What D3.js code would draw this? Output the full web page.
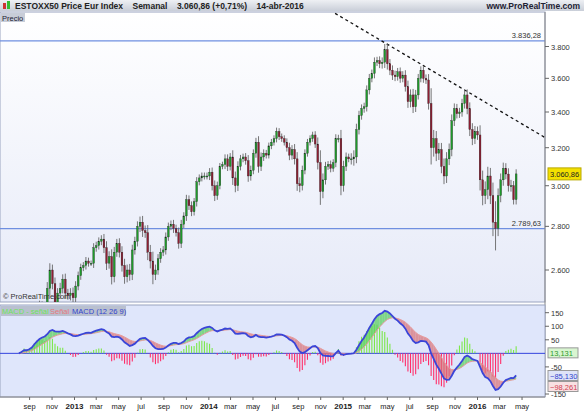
<!DOCTYPE html>
<html><head><meta charset="utf-8">
<script src="https://d3js.org/d3.v7.min.js"></script>
<style>body{margin:0;background:#fff}text{font-family:"Liberation Sans",Arial,sans-serif}</style>
</head><body><div id="chart"></div>
<script>
// weekly closes, Jul 2012 .. 15 Apr 2016
const closes = [
  2200,2264,2300,2230,2280,2325,2420,2440,2450,2440,2440,2520,2600,2540,2450,2500,2520,2560,2500,2490,2500,2480,2530,2575,2610,2620,2640,2630,2630,
  2700,2710,2730,2740,2700,2630,2660,2570,2680,2720,2680,2620,2570,2600,2580,2690,2730,2800,2820,2780,2770,2680,2640,2580,2600,2650,2680,2690,2750,2800,2810,2790,2770,2720,2810,2850,2930,2900,2870,2920,3020,3040,3050,3050,3050,3070,3000,2950,3000,3100,3110,
  3140,3100,3150,3040,3000,3100,3140,3150,3130,3050,3080,3170,3230,3100,3150,3170,3160,3210,3230,3250,3290,3260,3250,3230,3200,3160,3190,3140,3010,3000,3080,3170,3230,3250,3270,3220,3120,2970,3030,3100,3110,3090,3120,3250,3250,3000,3100,3150,3140,
  3140,3150,3300,3380,3420,3430,3530,3600,3630,3700,3710,3690,3700,3780,3690,3650,3620,3610,3640,3600,3620,3550,3460,3500,3430,3500,3600,3650,3600,3590,3450,3200,3250,3170,3190,3100,3050,3140,3190,3350,3420,3390,3400,3450,3500,3420,3300,3250,3290,3270,
  3030,2950,2980,3050,2950,2820,2790,2950,3030,3090,3060,3000,3000,2930,3060.86
];
// extra wick length beyond the body, per week
const wicks = [
  40,50,45,60,55,40,35,30,30,25,30,45,50,40,45,35,40,35,40,30,35,40,35,30,30,25,30,25,20,
  35,30,30,30,40,50,40,55,40,35,40,45,50,40,45,40,35,40,45,50,40,60,55,70,40,35,30,30,35,30,30,35,30,40,35,30,40,35,35,30,40,30,30,30,30,35,40,45,35,30,25,
  40,40,35,60,55,45,35,30,35,50,40,35,40,55,40,35,30,30,30,30,35,30,30,30,35,45,40,50,60,55,40,35,30,30,30,35,60,110,55,40,30,35,30,40,35,80,50,40,30,
  50,60,55,45,40,40,45,45,40,50,40,45,50,60,60,50,50,45,40,45,40,50,60,55,60,50,45,40,45,40,60,150,80,70,60,60,70,60,55,60,50,45,40,45,50,55,60,60,50,45,
  90,80,70,80,70,110,170,60,55,50,45,50,50,40,40
];
const xTicks = ["2012-09-01","2012-11-01","2013-01-01","2013-03-01","2013-05-01","2013-07-01","2013-09-01","2013-11-01","2014-01-01","2014-03-01","2014-05-01","2014-07-01","2014-09-01","2014-11-01","2015-01-01","2015-03-01","2015-05-01","2015-07-01","2015-09-01","2015-11-01","2016-01-01","2016-03-01","2016-05-01"];
const monthNames = ["ene","feb","mar","abr","may","jun","jul","ago","sep","oct","nov","dic"];
const priceTicks = [2600,2800,3000,3200,3400,3600,3800];
const macdTicks = [150,100,50,-50,-150];
const levels = [3836.28, 2789.63];
const trendPts = [["2014-12-10",4020],["2016-07-03",3255]];

const W = 584, H = 412;
const fmt = d3.formatLocale({decimal:",",thousands:".",grouping:[3],currency:["",""]});
const f2 = fmt.format(",.2f"), f3 = fmt.format(",.3f");

const last = new Date(2016,3,15);
const dates = closes.map((c,i) => d3.timeDay.offset(last, -7*(closes.length-1-i)));
const bars = closes.map((c,i) => {
  const o = i ? closes[i-1] : c - 20;
  return {d: dates[i], o, c, h: Math.max(o,c)+wicks[i]*0.6, l: Math.min(o,c)-wicks[i]*0.6};
});

const x = d3.scaleTime().domain([new Date(2013,0,1), new Date(2016,0,1)]).range([74.5, 477.5]);
const y = d3.scaleLog().domain([2600, 3800]).range([270, 46.5]);
const ym = d3.scaleLinear().domain([-150,150]).range([394, 312.7]);

const svg = d3.select("#chart").append("svg").attr("width", W).attr("height", H);
const defs = svg.append("defs");
const g1 = defs.append("linearGradient").attr("id","bg").attr("x1",0).attr("y1",0).attr("x2",0).attr("y2",1);
g1.append("stop").attr("offset",0).attr("stop-color","#ffffff");
g1.append("stop").attr("offset",1).attr("stop-color","#e6eaf8");
const g2 = defs.append("linearGradient").attr("id","hd").attr("x1",0).attr("y1",0).attr("x2",0).attr("y2",1);
g2.append("stop").attr("offset",0).attr("stop-color","#eef0f4");
g2.append("stop").attr("offset",1).attr("stop-color","#c9ced8");
defs.append("clipPath").attr("id","cp").append("rect").attr("x",0).attr("y",12).attr("width",545).attr("height",290);
defs.append("clipPath").attr("id","cm").append("rect").attr("x",0).attr("y",305).attr("width",545).attr("height",92);

// header
svg.append("rect").attr("width",W).attr("height",11).attr("fill","url(#hd)");
svg.append("rect").attr("x",3).attr("y",3).attr("width",3).attr("height",6).attr("fill","#c33");
svg.append("rect").attr("x",7).attr("y",1).attr("width",3).attr("height",8).attr("fill","#3b3");
svg.append("text").attr("x",15).attr("y",9).attr("font-size",8.5).attr("font-weight","bold").attr("fill","#222")
  .attr("xml:space","preserve").text("ESTOXX50 Price Eur Index    Semanal    3.060,86 (+0,71%)    14-abr-2016");
svg.append("text").attr("x",580).attr("y",9).attr("font-size",8.5).attr("font-weight","bold").attr("text-anchor","end").attr("fill","#223").text("www.ProRealTime.com");

// price panel
svg.append("rect").attr("x",0).attr("y",12).attr("width",545).attr("height",290).attr("fill","url(#bg)").attr("stroke","#9aa4c0");
svg.append("rect").attr("x",1).attr("y",13).attr("width",24).attr("height",9).attr("fill","#c8cdd8");
svg.append("text").attr("x",2).attr("y",20.5).attr("font-size",7.5).attr("fill","#223").text("Precio");

const pp = svg.append("g").attr("clip-path","url(#cp)");
levels.forEach(v => {
  pp.append("line").attr("x1",0).attr("x2",545).attr("y1",y(v)).attr("y2",y(v)).attr("stroke","#6f8fe0").attr("stroke-width",1.2);
  svg.append("text").attr("x",541).attr("y",y(v)-3).attr("font-size",7.5).attr("text-anchor","end").attr("fill","#333").text(f2(v));
});
pp.append("line")
  .attr("x1",x(new Date(trendPts[0][0]))).attr("y1",y(trendPts[0][1]))
  .attr("x2",x(new Date(trendPts[1][0]))).attr("y2",y(trendPts[1][1]))
  .attr("stroke","#111").attr("stroke-width",1.3).attr("stroke-dasharray","3,3");

const cg = pp.selectAll("g.c").data(bars).join("g");
cg.append("line").attr("x1",d=>x(d.d)).attr("x2",d=>x(d.d)).attr("y1",d=>y(d.h)).attr("y2",d=>y(d.l))
  .attr("stroke","#666").attr("stroke-width",0.9);
cg.append("rect").attr("x",d=>x(d.d)-0.9).attr("width",1.8)
  .attr("y",d=>y(Math.max(d.o,d.c))).attr("height",d=>Math.max(1,Math.abs(y(d.o)-y(d.c))))
  .attr("fill",d=>d.c>=d.o ? "#1e9a2a" : "#8e1f33").attr("stroke","#222").attr("stroke-width",0.3);

svg.append("text").attr("x",3).attr("y",299).attr("font-size",7.5).attr("fill","#333").text("© ProRealTime.com");

// right axis price
svg.append("line").attr("x1",545).attr("x2",545).attr("y1",12).attr("y2",397).attr("stroke","#888");
priceTicks.forEach(v => {
  svg.append("line").attr("x1",545).attr("x2",549).attr("y1",y(v)).attr("y2",y(v)).attr("stroke","#666");
  svg.append("text").attr("x",551).attr("y",y(v)+3).attr("font-size",7.5).attr("fill","#333").text(f3(v/1000).replace(",","."));
});
const lc = closes[closes.length-1];
svg.append("rect").attr("x",548).attr("y",y(lc)-6).attr("width",33).attr("height",12).attr("fill","#f3e000").attr("stroke","#b9a800");
svg.append("text").attr("x",550).attr("y",y(lc)+3).attr("font-size",7.5).attr("fill","#222").text(f2(lc));

// MACD
function ema(arr, n){ const k=2/(n+1); let e=arr[0]; return arr.map(v => e = v*k + e*(1-k)); }
const e12 = ema(closes,12), e26 = ema(closes,26);
const macd = closes.map((c,i) => e12[i]-e26[i]);
const sig = ema(macd, 9);
const md = dates.map((d,i) => ({d, m: macd[i], s: sig[i]}));

svg.append("rect").attr("x",0).attr("y",305).attr("width",545).attr("height",92).attr("fill","#dfe6fb").attr("stroke","#9aa4c0");
const mp = svg.append("g").attr("clip-path","url(#cm)");
mp.append("line").attr("x1",0).attr("x2",545).attr("y1",ym(0)).attr("y2",ym(0)).attr("stroke","#3344dd").attr("stroke-width",1);
mp.selectAll("line.h").data(md).join("line")
  .attr("x1",d=>x(d.d)).attr("x2",d=>x(d.d)).attr("y1",ym(0)).attr("y2",d=>ym(2*(d.m-d.s)))
  .attr("stroke",d=>d.m>=d.s ? "#7ce84a" : "#ff2f6a").attr("stroke-width",1.1);
for (let i=1;i<md.length;i++){
  const a=md[i-1], b=md[i];
  mp.append("path").attr("d", d3.area().x(d=>x(d.d)).y0(d=>ym(d.s)).y1(d=>ym(d.m))([a,b]))
    .attr("fill", (a.m+b.m)/2 >= (a.s+b.s)/2 ? "#5fd060" : "#d9767c").attr("opacity",0.75);
}
mp.append("path").attr("d", d3.line().x(d=>x(d.d)).y(d=>ym(d.s))(md)).attr("fill","none").attr("stroke","#e79a9a").attr("stroke-width",1);
mp.append("path").attr("d", d3.line().x(d=>x(d.d)).y(d=>ym(d.m))(md)).attr("fill","none").attr("stroke","#3a45d8").attr("stroke-width",1.8);

svg.append("rect").attr("x",1).attr("y",306).attr("width",125).attr("height",10).attr("fill","#b9c0cf");
svg.append("text").attr("x",2).attr("y",314).attr("font-size",7.5).attr("fill","#6de45a").text("MACD - señal");
svg.append("text").attr("x",50).attr("y",314).attr("font-size",7.5).attr("fill","#e5787e").text("Señal");
svg.append("text").attr("x",72).attr("y",314).attr("font-size",7.5).attr("fill","#3344cc").text("MACD (12 26 9)");

macdTicks.forEach(v => {
  svg.append("line").attr("x1",545).attr("x2",549).attr("y1",ym(v)).attr("y2",ym(v)).attr("stroke","#666");
  svg.append("text").attr("x",551).attr("y",ym(v)+3).attr("font-size",7.5).attr("fill","#333").text(v);
});
[[13.131,"#2d9a2d","#d8f5d0",ym(0)],[-85.130,"#3344cc","#dfe4f8",376],[-98.261,"#d04050","#f8e0e2",387]].forEach(([v,col,bg,yy]) => {
  svg.append("rect").attr("x",548).attr("y",yy-5.5).attr("width",30).attr("height",10).attr("fill",bg).attr("stroke","#999");
  svg.append("text").attr("x",550).attr("y",yy+2.5).attr("font-size",7.5).attr("fill",col).text(f3(v));
});

// time axis
svg.append("line").attr("x1",0).attr("x2",545).attr("y1",397).attr("y2",397).attr("stroke","#888");
xTicks.map(s => new Date(s+"T00:00")).forEach(d => {
  const yr = d.getMonth()===0;
  svg.append("line").attr("x1",x(d)).attr("x2",x(d)).attr("y1",397).attr("y2",400).attr("stroke","#666");
  svg.append("text").attr("x",x(d)).attr("y",409).attr("font-size",yr?8:7.5).attr("font-weight",yr?"bold":"normal")
    .attr("text-anchor","middle").attr("fill","#222").text(yr ? d.getFullYear() : monthNames[d.getMonth()]);
});
</script></body></html>
